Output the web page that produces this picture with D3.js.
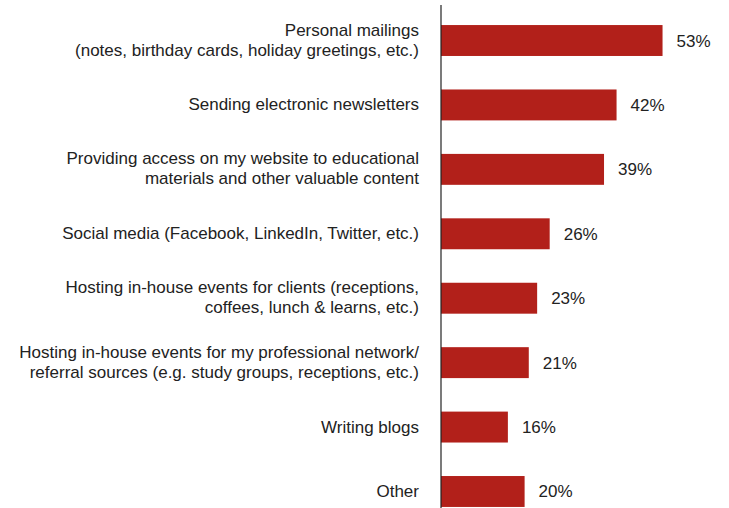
<!DOCTYPE html>
<html>
<head>
<meta charset="utf-8">
<script src="https://cdn.jsdelivr.net/npm/d3@7"></script>
<style>
  html, body { margin: 0; padding: 0; background: #fff; }
  svg { display: block; font-family: "Liberation Sans", Arial, sans-serif; }
</style>
</head>
<body>
<svg id="chart" width="729" height="508"></svg>
<script>
// Activities used to stay in touch (share of respondents)
const categories = [
  "Personal mailings|(notes, birthday cards, holiday greetings, etc.)",
  "Sending electronic newsletters",
  "Providing access on my website to educational|materials and other valuable content",
  "Social media (Facebook, LinkedIn, Twitter, etc.)",
  "Hosting in-house events for clients (receptions,|coffees, lunch & learns, etc.)",
  "Hosting in-house events for my professional network/|referral sources (e.g. study groups, receptions, etc.)",
  "Writing blogs",
  "Other"
];
const values = [53, 42, 39, 26, 23, 21, 16, 20];
const valueLabels = ["53%", "42%", "39%", "26%", "23%", "21%", "16%", "20%"];

const svg = d3.select("#chart");
const axisX = 441;
const fontSize = 17;

const x = d3.scaleLinear().domain([0, 100]).range([axisX, axisX + 418]);
const y = d3.scaleBand()
  .domain(categories)
  .range([8.3, 523.7])
  .paddingInner(0.52)
  .paddingOuter(0.26);

const rows = categories.map((c, i) => ({ cat: c, value: values[i], label: valueLabels[i] }));

// bars
svg.append("g").selectAll("rect")
  .data(rows)
  .join("rect")
  .attr("x", x(0))
  .attr("y", d => y(d.cat))
  .attr("width", d => x(d.value) - x(0))
  .attr("height", y.bandwidth())
  .attr("fill", "#b2201a");

// value labels
svg.append("g").selectAll("text")
  .data(rows)
  .join("text")
  .attr("x", d => x(d.value) + 14)
  .attr("y", d => y(d.cat) + y.bandwidth() / 2 + 6)
  .attr("font-size", fontSize)
  .attr("fill", "#222")
  .text(d => d.label);

// category labels (right-aligned, wrapped on "|")
const lab = svg.append("g").selectAll("text")
  .data(rows)
  .join("text")
  .attr("text-anchor", "end")
  .attr("font-size", fontSize)
  .attr("fill", "#222");
lab.each(function(d) {
  const lines = d.cat.split("|");
  const cy = y(d.cat) + y.bandwidth() / 2;
  const t = d3.select(this);
  lines.forEach((ln, i) => {
    const base = lines.length > 1 ? 5 : 5.5;
    t.append("tspan")
      .attr("x", 419)
      .attr("y", cy + base + (i - (lines.length - 1) / 2) * 20)
      .text(ln);
  });
});

// vertical axis line
svg.append("line")
  .attr("x1", axisX).attr("x2", axisX)
  .attr("y1", 5).attr("y2", 508)
  .attr("stroke", "#222")
  .attr("stroke-width", 1.2);
</script>
</body>
</html>
